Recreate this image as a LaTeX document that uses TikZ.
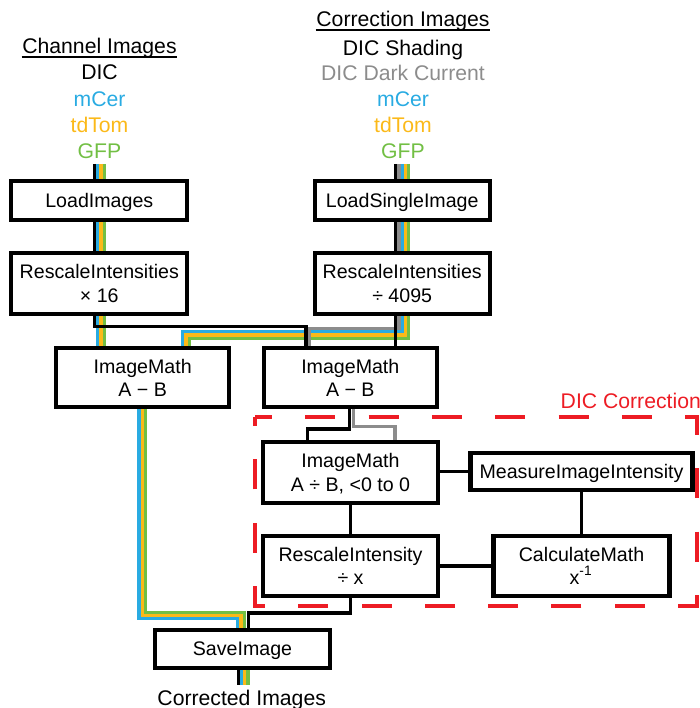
\documentclass[tikz,border=0pt]{standalone}
\usepackage{fontspec}
\setmainfont{Liberation Sans}
\usepackage{xcolor}
\usepackage{tikz}
\usetikzlibrary{backgrounds,calc}
\definecolor{IMGblue}{HTML}{29ABE2}
\definecolor{IMGorange}{HTML}{FBB919}
\definecolor{IMGgreen}{HTML}{72BF44}
\definecolor{IMGgray}{HTML}{8C8C8C}
\definecolor{IMGred}{HTML}{ED1C24}
\newcommand{\boxfont}{\fontsize{5.58}{6.63}\selectfont}
\newcommand{\lblfont}{\fontsize{6.03}{7.4}\selectfont}

\begin{document}
\begin{tikzpicture}[x=1cm, y=-1cm,
    procbox/.style={draw, line width=1.2pt, fill=white, inner sep=0pt, text depth=0pt, align=center, font=\boxfont},
    wire/.style={line width=1pt},
    lane/.style={line width=0.94pt},
    lbl/.style={inner sep=0pt, anchor=base, font=\lblfont}]
  \useasboundingbox (0,0) rectangle (6.99,7.08);

  % input labels
  \node[lbl] (chhead) at (0.995,0.54) {Channel Images};
  \node[lbl] (chdic) at (0.995,0.80) {DIC};
  \node[lbl, IMGblue] (chcer) at (0.995,1.067) {mCer};
  \node[lbl, IMGorange] (chtom) at (0.995,1.327) {tdTom};
  \node[lbl, IMGgreen] (chgfp) at (0.995,1.583) {GFP};
  \node[lbl] (crhead) at (4.03,0.267) {Correction Images};
  \node[lbl] (crshd) at (4.03,0.56) {DIC Shading};
  \node[lbl, IMGgray] (crdark) at (4.03,0.81) {DIC Dark Current};
  \node[lbl, IMGblue] (crcer) at (4.03,1.07) {mCer};
  \node[lbl, IMGorange] (crtom) at (4.03,1.327) {tdTom};
  \node[lbl, IMGgreen] (crgfp) at (4.03,1.583) {GFP};
  \draw[line width=0.6pt] ([yshift=-0.95pt]chhead.base west) -- ([yshift=-0.95pt]chhead.base east);
  \draw[line width=0.6pt] ([yshift=-0.95pt]crhead.base west) -- ([yshift=-0.95pt]crhead.base east);

  % modules
  \node[procbox, minimum width=1.76cm, minimum height=0.39cm] (loadimg) at (0.993,2.008) {LoadImages};
  \node[procbox, minimum width=1.76cm, minimum height=0.61cm] (rescA) at (0.993,2.835) {RescaleIntensities\\× 16};
  \node[procbox, minimum width=1.75cm, minimum height=0.39cm] (loadsgl) at (4.022,2.008) {LoadSingleImage};
  \node[procbox, minimum width=1.75cm, minimum height=0.61cm] (rescB) at (4.022,2.835) {RescaleIntensities\\÷ 4095};
  \node[procbox, minimum width=1.73cm, minimum height=0.593cm] (immL) at (1.427,3.777) {ImageMath\\A − B};
  \node[procbox, minimum width=1.733cm, minimum height=0.593cm] (immR) at (3.503,3.777) {ImageMath\\A − B};
  \node[procbox, minimum width=1.75cm, minimum height=0.61cm] (immDiv) at (3.505,4.725) {ImageMath\\A ÷ B, <0 to 0};
  \node[procbox, minimum width=2.22cm, minimum height=0.376cm] (measure) at (5.815,4.715) {MeasureImageIntensity};
  \node[procbox, minimum width=1.76cm, minimum height=0.6cm] (calcmath) at (5.815,5.66) {CalculateMath\\x\textsuperscript{-1}};
  \node[procbox, minimum width=1.75cm, minimum height=0.6cm] (rescX) at (3.505,5.66) {RescaleIntensity\\÷ x};
  \node[procbox, minimum width=1.744cm, minimum height=0.377cm] (save) at (2.425,6.49) {SaveImage};
  \node[lbl] (outlbl) at (2.417,7.055) {Corrected Images};
  \node[lbl, anchor=base west, IMGred] (dictitle) at (5.6,4.09) {DIC Correction};

  \begin{scope}[on background layer]
    \draw[IMGred, line width=1.2pt, dash pattern=on 0.3cm off 0.333cm, dash phase=0.13cm]
      (2.55,4.17) -- (6.97,4.17) -- (6.97,6.06) -- (2.55,6.06) -- cycle;
    \coordinate (chtop) at (0.993,1.64);
    \coordinate (crtop) at (4.022,1.64);
    \coordinate (outpt) at (2.425,6.85);
    % channel images
    \foreach \c/\dx in {black/-0.0495, IMGblue/-0.0165, IMGorange/0.0165, IMGgreen/0.0495} {
      \draw[lane, \c] ([xshift=\dx cm]chtop) -- ([xshift=\dx cm]loadimg.north);
      \draw[lane, \c] ([xshift=\dx cm]loadimg.south) -- ([xshift=\dx cm]rescA.north);
    }
    \foreach \c/\dx in {IMGblue/-0.0165, IMGorange/0.0165, IMGgreen/0.0495}
      \draw[lane, \c] ([xshift=\dx cm]rescA.south) -- ([xshift=\dx cm]rescA.south |- immL.north);
    % correction images
    \foreach \c/\dx in {black/-0.066, IMGgray/-0.033, IMGblue/0, IMGorange/0.033, IMGgreen/0.066} {
      \draw[lane, \c] ([xshift=\dx cm]crtop) -- ([xshift=\dx cm]loadsgl.north);
      \draw[lane, \c] ([xshift=\dx cm]loadsgl.south) -- ([xshift=\dx cm]rescB.north);
    }
    \foreach \c/\dx/\dy/\ex in {IMGblue/0/0.155/0.398, IMGorange/0.033/0.19/0.433, IMGgreen/0.066/0.223/0.466}
      \draw[lane, \c] ([xshift=\dx cm]rescB.south) -- ++(0,\dy) -| ([xshift=\ex cm]immL.north);
    \draw[lane, IMGgray] ([xshift=-0.033cm]rescB.south) -- ++(0,0.125) -| ([xshift=-0.413cm]immR.north);
    \draw[lane] ([xshift=-0.0495cm]rescA.south) -- ++(0,0.105) -| ([xshift=-0.443cm]immR.north);
    \draw[lane] ([xshift=-0.066cm]rescB.south) -- ([xshift=-0.066cm]rescB.south |- immR.north);
    % dic correction
    \draw[lane, IMGgray] ([xshift=0.03cm]immR.south) -- ++(0,0.17) -| ([xshift=0.445cm]immDiv.north);
    \draw[wire] ([xshift=-0.006cm]immR.south) -- ++(0,0.197) -| ([xshift=-0.428cm]immDiv.north);
    \draw[wire] (immDiv.south) -- (rescX.north);
    \draw[wire] (measure.west -| immDiv.east) -- (measure.west);
    \draw[wire] (measure.south) -- (calcmath.north);
    \draw[wire] (calcmath.west) -- (rescX.east);
    % save
    \foreach \c/\dx/\dy/\ex in {IMGblue/-0.037/2.093/-0.048, IMGorange/-0.004/2.06/-0.015, IMGgreen/0.03/2.027/0.018}
      \draw[lane, \c] ([xshift=\dx cm]immL.south) -- ++(0,\dy) -| ([xshift=\ex cm]save.north);
    \draw[wire] (rescX.south) -- ++(0,0.15) -| ([xshift=0.058cm]save.north);
    \foreach \c/\dx in {black/-0.042, IMGblue/-0.01, IMGorange/0.022, IMGgreen/0.054}
      \draw[lane, \c] ([xshift=\dx cm]save.south) -- ([xshift=\dx cm]save.south |- outpt);
  \end{scope}
\end{tikzpicture}
\end{document}
